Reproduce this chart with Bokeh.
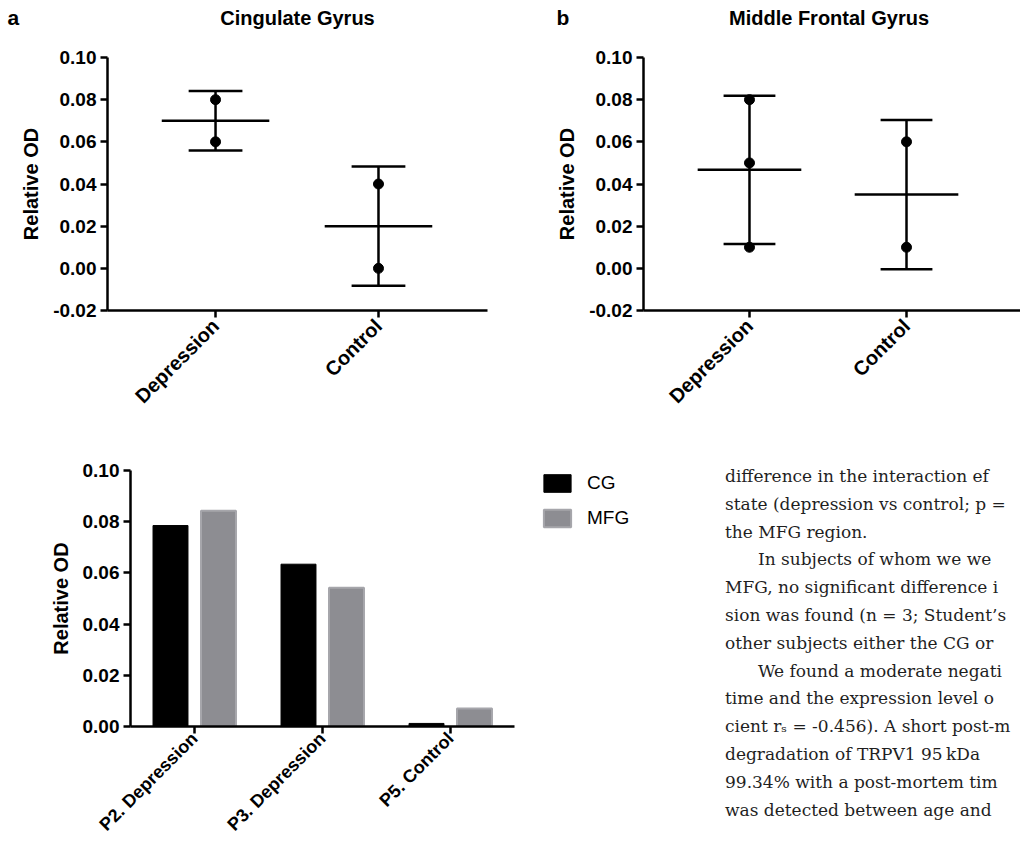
import math
import html
from bokeh.plotting import figure
from bokeh.models import (Range1d, FixedTicker, PrintfTickFormatter, ColumnDataSource,
                          Legend, LegendItem, Div)
from bokeh.layouts import row, column
from bokeh.embed import file_html
from bokeh.resources import INLINE
from bokeh.core.properties import value
from bokeh.transform import dodge

SANS = "Liberation Sans"
SERIF = "DejaVu Serif"

# ---------------- data ----------------
groups = ["Depression", "Control"]

cg_title = "Cingulate Gyrus"
cg_point_group = ["Depression", "Depression", "Control", "Control"]
cg_point_value = [0.080, 0.060, 0.040, 0.000]
cg_mean = [0.070, 0.020]
cg_sd = [0.0141, 0.0283]

mfg_title = "Middle Frontal Gyrus"
mfg_point_group = ["Depression", "Depression", "Depression", "Control", "Control"]
mfg_point_value = [0.080, 0.050, 0.010, 0.060, 0.010]
mfg_mean = [0.0467, 0.0350]
mfg_sd = [0.0351, 0.0354]

subjects = ["P2. Depression", "P3. Depression", "P5. Control"]
subject_cg = [0.0785, 0.0634, 0.0012]
subject_mfg = [0.0843, 0.0542, 0.0070]
series_names = ["CG", "MFG"]
series_fill = ["black", "#8d8d92"]
series_line = ["black", "#a6a6ab"]

panel_letters = ["a", "b"]
top_y_ticks = [-0.02, 0.00, 0.02, 0.04, 0.06, 0.08, 0.10]
bottom_y_ticks = [0.00, 0.02, 0.04, 0.06, 0.08, 0.10]

text_lines = [
    "difference in the interaction ef",
    "state (depression vs control; p =",
    "the MFG region.",
    "In subjects of whom we we",
    "MFG, no significant difference i",
    "sion was found (n = 3; Student\u2019s",
    "other subjects either the CG or",
    "We found a moderate negati",
    "time and the expression level o",
    "cient r\u209b = -0.456). A short post-m",
    "degradation of TRPV1 95\u2009kDa",
    "99.34% with a post-mortem tim",
    "was detected between age and",
]
text_indent = [0, 0, 0, 1, 0, 0, 0, 1, 0, 0, 0, 0, 0]

W = 1020
HEADER_H = 40
ROW1_H = 397
ROW2_H = 409


def style_axes(p, cats, yticks, xlabel_size, xlabel_standoff):
    pos = list(range(1, len(cats) + 1))
    p.xaxis.ticker = FixedTicker(ticks=pos)
    p.xaxis.major_label_overrides = dict(zip(pos, cats))
    p.xaxis.major_label_orientation = math.pi / 4
    p.yaxis.ticker = FixedTicker(ticks=yticks)
    p.yaxis.formatter = PrintfTickFormatter(format="%.2f")
    p.yaxis.axis_label = "Relative OD"
    p.yaxis.axis_label_text_font = SANS
    p.yaxis.axis_label_text_font_style = "bold"
    p.yaxis.axis_label_text_font_size = "20px"
    p.yaxis.axis_label_text_color = "black"
    p.yaxis.axis_label_standoff = 8
    for ax in list(p.xaxis) + list(p.yaxis):
        ax.axis_line_width = 2.5
        ax.axis_line_color = "black"
        ax.major_tick_line_width = 2.5
        ax.major_tick_line_color = "black"
        ax.major_tick_out = 7
        ax.major_tick_in = 0
        ax.minor_tick_line_color = None
        ax.major_label_text_font = SANS
        ax.major_label_text_font_style = "bold"
        ax.major_label_text_color = "black"
    p.yaxis.major_label_text_font_size = "19px"
    p.yaxis.major_label_standoff = 4
    p.xaxis.major_label_text_font_size = xlabel_size
    p.xaxis.major_label_standoff = xlabel_standoff
    p.xgrid.visible = False
    p.ygrid.visible = False
    p.outline_line_color = None


def dot_panel(point_group, point_value, mean, sd, x_start, x_end, width, b_left, b_right):
    p = figure(width=width, height=ROW1_H,
               x_range=Range1d(x_start, x_end), y_range=Range1d(-0.02, 0.10),
               min_border_left=b_left, min_border_right=b_right,
               min_border_top=17, min_border_bottom=127,
               toolbar_location=None, output_backend="svg")
    style_axes(p, groups, top_y_ticks, "20px", 5)
    pos = {g: i + 1 for i, g in enumerate(groups)}
    src = ColumnDataSource(dict(
        x=[pos[g] for g in groups], mean=mean,
        lo=[m - s for m, s in zip(mean, sd)],
        hi=[m + s for m, s in zip(mean, sd)]))
    kw = dict(source=src, line_color="black", line_width=2.5)
    p.segment(x0=dodge("x", -0.33), y0="mean", x1=dodge("x", 0.33), y1="mean", **kw)
    p.segment(x0="x", y0="lo", x1="x", y1="hi", **kw)
    p.segment(x0=dodge("x", -0.165), y0="hi", x1=dodge("x", 0.165), y1="hi", **kw)
    p.segment(x0=dodge("x", -0.165), y0="lo", x1=dodge("x", 0.165), y1="lo", **kw)
    p.scatter(x=[pos[g] for g in point_group], y=point_value, size=10,
              fill_color="black", line_color="black")
    return p


A_LEFT, A_W, A_RIGHT = 107, 500, 13
B_LEFT, B_W, B_RIGHT = 143, W - 500, 0
pa = dot_panel(cg_point_group, cg_point_value, cg_mean, cg_sd,
               0.337, 2.669, A_W, A_LEFT, A_RIGHT)
pb = dot_panel(mfg_point_group, mfg_point_value, mfg_mean, mfg_sd,
               0.325, 2.726, B_W, B_LEFT, B_RIGHT)

# ---------------- header (panel letters and titles) ----------------
hdr = figure(width=W, height=HEADER_H, x_range=Range1d(0, W), y_range=Range1d(HEADER_H, 0),
             x_axis_type=None, y_axis_type=None, min_border=0,
             toolbar_location=None, output_backend="svg")
hdr.outline_line_color = None
hdr.xgrid.visible = False
hdr.ygrid.visible = False
a_center = (A_LEFT + (A_W - A_RIGHT)) / 2
b_center = A_W + (B_LEFT + (B_W - B_RIGHT)) / 2 - 3
hdr.text(x=[a_center, b_center], y=[17, 17], text=[cg_title, mfg_title],
         text_font=value(SANS), text_font_style="bold", text_font_size="20px",
         text_color="black", text_align="center", text_baseline="middle")
hdr.text(x=[7, 556], y=[17, 17], text=panel_letters,
         text_font=value(SANS), text_font_style="bold", text_font_size="21px",
         text_color="black", text_align="left", text_baseline="middle")

# ---------------- bar panel ----------------
C_W = 524
pc = figure(width=C_W, height=ROW2_H,
            x_range=Range1d(0.5, 3.5), y_range=Range1d(0, 0.10),
            min_border_left=130, min_border_right=10,
            min_border_top=33, min_border_bottom=120,
            toolbar_location=None, output_backend="svg")
style_axes(pc, subjects, bottom_y_ticks, "18px", 2)
bsrc = ColumnDataSource(dict(x=list(range(1, len(subjects) + 1)),
                             cg=subject_cg, mfg=subject_mfg))
pc.vbar(x=dodge("x", -0.1875), top="cg", width=0.273, bottom=0, source=bsrc,
        fill_color=series_fill[0], line_color=series_line[0], line_width=1)
pc.vbar(x=dodge("x", 0.1875), top="mfg", width=0.273, bottom=0, source=bsrc,
        fill_color=series_fill[1], line_color=series_line[1], line_width=2)

# ---------------- legend strip for the bar panel ----------------
L_W = 188
lg = figure(width=L_W, height=ROW2_H, x_range=Range1d(0, 1), y_range=Range1d(0, 1),
            x_axis_type=None, y_axis_type=None,
            min_border=0, toolbar_location=None, output_backend="svg")
lg.outline_line_color = None
lg.xgrid.visible = False
lg.ygrid.visible = False
items = []
for name, fc, lc, lw in zip(series_names, series_fill, series_line, [1, 2]):
    # swatch-only renderer (no drawable data); the legend paints its key
    r = lg.vbar(x=[float("nan")], top=[float("nan")], width=1,
                fill_color=fc, line_color=lc, line_width=lw)
    items.append(LegendItem(label=name, renderers=[r]))
legend = Legend(items=items, location=(16, 197), orientation="vertical",
                glyph_width=34, glyph_height=22, spacing=13,
                label_standoff=13, label_text_font=SANS,
                label_text_font_size="19px", label_text_color="black",
                label_height=22, padding=0, margin=0,
                border_line_color=None, background_fill_alpha=0)
lg.add_layout(legend, "center")

# ---------------- text column (page text beside the figure) ----------------
T_W = W - C_W - L_W
line_h = 27.8
rows_html = "".join(
    '<div style="padding-left:%dpx">%s</div>' % (33 * ind, html.escape(t))
    for t, ind in zip(text_lines, text_indent))
text_html = (
    '<div style="font-family:\'DejaVu Serif\';font-size:17px;line-height:%.1fpx;'
    'color:#1f1f1f;white-space:nowrap;padding-top:26px;padding-left:13px;">%s</div>'
    % (line_h, rows_html))
txt = Div(text=text_html, width=T_W, height=ROW2_H, margin=0,
          styles={"overflow": "hidden"})

layout = column(hdr, row(pa, pb), row(pc, lg, txt))
open("out.html", "w").write(file_html(layout, INLINE))
